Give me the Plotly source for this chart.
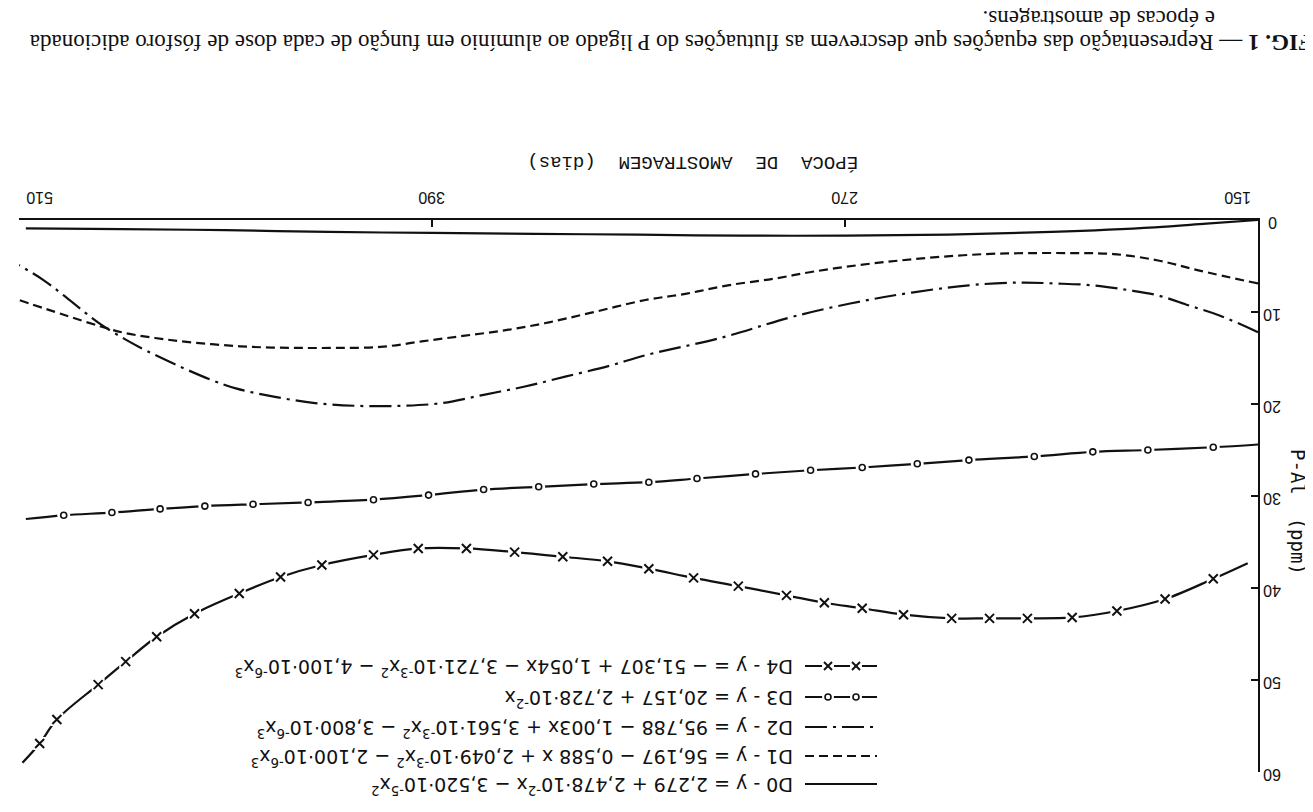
import plotly.graph_objects as go

# ---------------- data ----------------
X_TICKS = [150, 270, 390, 510]
Y_TICKS = [0, 10, 20, 30, 40, 50, 60]

d0_days = [150, 165, 180, 210, 240, 270, 300, 330, 360, 390, 420, 450, 480, 508]
d0_vals = [0.0, 0.4, 0.8, 1.3, 1.6, 1.7, 1.7, 1.6, 1.5, 1.4, 1.3, 1.1, 1.0, 0.9]

d1_days = [150, 167, 179, 192, 204, 217, 229, 242, 254, 266, 279, 291, 304, 316, 328,
           344, 357, 369, 381, 393, 405, 418, 430, 442, 454, 467, 479, 486, 497, 510]
d1_vals = [6.9, 5.5, 4.4, 3.7, 3.6, 3.6, 3.7, 4.0, 4.4, 4.9, 5.6, 6.4, 7.1, 8.0, 8.7,
           10.1, 11.2, 12.0, 12.6, 13.2, 13.8, 13.9, 13.9, 13.8, 13.5, 13.0, 12.3, 11.6, 10.3, 8.7]

d2_days = [150, 161, 170, 179, 188, 198, 209, 219, 234, 259, 284, 306, 328, 338, 351,
           363, 375, 387, 399, 412, 424, 436, 447, 454, 464, 473, 479, 486, 491, 497, 503, 510]
d2_vals = [12.2, 10.4, 9.3, 8.2, 7.6, 7.1, 6.9, 6.8, 7.1, 8.4, 10.4, 12.8, 14.7, 15.8, 17.0,
           18.1, 19.0, 19.9, 20.2, 20.2, 19.9, 19.2, 18.3, 17.4, 15.8, 14.2, 13.0, 11.4, 10.0, 8.2, 6.5, 4.9]

d3_days = [150, 163, 182, 198, 215, 234, 249, 265, 280, 296, 313, 327, 343, 359, 375,
           391, 407, 426, 442, 456, 469, 483, 497, 508]
d3_vals = [24.4, 24.7, 25.0, 25.2, 25.7, 26.1, 26.5, 26.9, 27.2, 27.6, 28.1, 28.5, 28.7, 29.0, 29.3,
           29.9, 30.4, 30.7, 30.9, 31.1, 31.4, 31.8, 32.1, 32.5]

d4_days = [153, 163, 177, 191, 204, 217, 228, 239, 253, 265, 276, 287, 301, 314, 327, 339,
           352, 366, 380, 394, 407, 422, 434, 446, 459, 470, 479, 487, 499, 504, 509]
d4_vals = [37.3, 39.0, 41.2, 42.5, 43.2, 43.3, 43.3, 43.3, 42.9, 42.2, 41.6, 40.8, 39.8, 38.9, 37.9, 37.1,
           36.6, 36.1, 35.7, 35.7, 36.4, 37.5, 38.8, 40.6, 42.8, 45.3, 48.0, 50.5, 54.3, 56.9, 59.0]

LEGEND_TEXTS = [
    "D4 - y = − 51,307 + 1,054x − 3,721·10<sup>-3</sup>x<sup>2</sup> − 4,100·10<sup>-6</sup>x<sup>3</sup>",
    "D3 - y = 20,157 + 2,728·10<sup>-2</sup>x",
    "D2 - y = 95,788 − 1,003x + 3,561·10<sup>-3</sup>x<sup>2</sup> − 3,800·10<sup>-6</sup>x<sup>3</sup>",
    "D1 - y = 56,197 − 0,588 x + 2,049·10<sup>-3</sup>x<sup>2</sup> − 2,100·10<sup>-6</sup>x<sup>3</sup>",
    "D0 - y = 2,279 + 2,478·10<sup>-2</sup>x − 3,520·10<sup>-5</sup>x<sup>2</sup>",
]
CAPTION_1 = ("<b>FIG. 1</b> — Representação das equações que descrevem as flutuações do P ligado "
             "ao alumínio em função de cada dose de fósforo adicionada")
CAPTION_2 = "e épocas de amostragens."
X_TITLE = "ÉPOCA\u00a0\u00a0DE\u00a0\u00a0AMOSTRAGEM\u00a0\u00a0(dias)"
Y_TITLE = "P-Al\u00a0\u00a0(ppm)"

# ---------------- figure ----------------
# the page body has an 8px margin, so the figure is drawn 8px smaller and
# every window-pixel position below is converted with that offset
OFF = 8
W, H = 1313 - OFF, 812 - OFF
PLOT_L, PLOT_R, PLOT_T, PLOT_B = 19, 1258, 220, 772     # window pixels
ML, MR = PLOT_L - OFF, W - (PLOT_R - OFF)
MT, MB = PLOT_T - OFF, H - (PLOT_B - OFF)
PW, PH = PLOT_R - PLOT_L, PLOT_B - PLOT_T


def px2paper(px, py):
    return (px - PLOT_L) / PW, 1 - (py - PLOT_T) / PH


BLACK = "#111111"
fig = go.Figure()

fig.add_trace(go.Scatter(x=d0_days, y=d0_vals, mode="lines", line_shape="spline",
                         line=dict(color=BLACK, width=2.2)))
fig.add_trace(go.Scatter(x=d1_days, y=d1_vals, mode="lines", line_shape="spline",
                         line=dict(color=BLACK, width=2.2, dash="9px,5px")))
fig.add_trace(go.Scatter(x=d2_days, y=d2_vals, mode="lines", line_shape="spline",
                         line=dict(color=BLACK, width=2.2, dash="22px,6px,3px,6px")))
# D3 : line with open circles
fig.add_trace(go.Scatter(x=d3_days, y=d3_vals, mode="lines", line_shape="spline",
                         line=dict(color=BLACK, width=2.2)))
fig.add_trace(go.Scatter(x=d3_days[1:-1], y=d3_vals[1:-1], mode="markers",
                         marker=dict(symbol="circle", size=13, color="white")))
fig.add_trace(go.Scatter(x=d3_days[1:-1], y=d3_vals[1:-1], mode="markers",
                         marker=dict(symbol="circle-open", size=6, color=BLACK,
                                     line=dict(width=1.6, color=BLACK))))
# D4 : line with x marks
fig.add_trace(go.Scatter(x=d4_days, y=d4_vals, mode="lines", line_shape="spline",
                         line=dict(color=BLACK, width=2.2)))
fig.add_trace(go.Scatter(x=d4_days[1:-1], y=d4_vals[1:-1], mode="markers",
                         marker=dict(symbol="square", size=13, color="white")))
fig.add_trace(go.Scatter(x=d4_days[1:-1], y=d4_vals[1:-1], mode="markers",
                         marker=dict(symbol="x-thin", size=9, color=BLACK,
                                     line=dict(width=2, color=BLACK))))

annotations = []
num_font = dict(family="Liberation Sans", size=16, color=BLACK)


def ann(x, y, text, font, angle=180, xanchor="center", yanchor="middle",
        xref="paper", yref="paper", **kw):
    annotations.append(dict(x=x, y=y, xref=xref, yref=yref, text=text, showarrow=False,
                            textangle=angle, xanchor=xanchor, yanchor=yanchor,
                            font=font, **kw))


# x tick labels (upside down, ends pulled inwards)
x_shift = {150: -20, 510: 21}
for t in X_TICKS:
    ann(t, px2paper(0, 198)[1], str(t), num_font, xref="x", xshift=x_shift.get(t, 0))

# y tick labels (upside down, right of the axis)
for t in Y_TICKS:
    ann(px2paper(1272, 0)[0], t, str(t), num_font, yref="y", yshift=-3)

# axis titles
tx, ty = px2paper(693, 162)
ann(tx, ty, X_TITLE, dict(family="Liberation Mono", size=19, color=BLACK))
tx, ty = px2paper(1298, 512)
ann(tx, ty, Y_TITLE, dict(family="DejaVu Sans Mono", size=19, color=BLACK), angle=90)

# caption
tx, ty = px2paper(1314, 43)
ann(tx, ty, CAPTION_1, dict(family="Liberation Serif", size=23, color=BLACK), xanchor="right")
tx, ty = px2paper(1217, 19)
ann(tx, ty, CAPTION_2, dict(family="Liberation Serif", size=23, color=BLACK), xanchor="right")

# legend (upside down, sample on the right)
ROW_Y = [666, 697, 727, 756, 784]
STYLES = ["x", "o", "dashdot", "dash", "solid"]
shapes = []
leg_font = dict(family="DejaVu Sans", size=19, color=BLACK)
for txt, ry, st in zip(LEGEND_TEXTS, ROW_Y, STYLES):
    tx, ty = px2paper(795, ry + 2)
    ann(tx, ty, txt, leg_font, xanchor="right")
    x0, yy = px2paper(805, ry)
    x1, _ = px2paper(877, ry)
    dash = {"dash": "9px,5px", "dashdot": "22px,6px,3px,6px"}.get(st, "solid")
    shapes.append(dict(type="line", xref="paper", yref="paper", x0=x0, x1=x1, y0=yy, y1=yy,
                       line=dict(color=BLACK, width=2.2, dash=dash)))
    if st in ("x", "o"):
        for mx in (828, 856):
            cx, cy = px2paper(mx, ry)
            pix = dict(xref="paper", yref="paper", xsizemode="pixel", ysizemode="pixel",
                       xanchor=cx, yanchor=cy)
            if st == "o":
                shapes.append(dict(type="circle", x0=-6, x1=6, y0=-6, y1=6,
                                   fillcolor="white", line=dict(width=0, color="white"), **pix))
                shapes.append(dict(type="circle", x0=-3, x1=3, y0=-3, y1=3,
                                   fillcolor="white", line=dict(width=1.6, color=BLACK), **pix))
            else:
                shapes.append(dict(type="rect", x0=-6, x1=6, y0=-6, y1=6,
                                   fillcolor="white", line=dict(width=0, color="white"), **pix))
                shapes.append(dict(type="line", x0=-4, x1=4, y0=-4, y1=4,
                                   line=dict(width=2, color=BLACK), **pix))
                shapes.append(dict(type="line", x0=-4, x1=4, y0=4, y1=-4,
                                   line=dict(width=2, color=BLACK), **pix))

fig.update_layout(
    width=W, height=H,
    margin=dict(l=ML, r=MR, t=MT, b=MB),
    paper_bgcolor="white", plot_bgcolor="white",
    showlegend=False,
    annotations=annotations,
    shapes=shapes,
    xaxis=dict(range=[510, 150], side="top", showline=True, linecolor=BLACK, linewidth=2,
               ticks="inside", ticklen=7, tickwidth=2, tickcolor=BLACK,
               tickvals=X_TICKS, showticklabels=False, showgrid=False, zeroline=False),
    yaxis=dict(range=[60, 0], side="right", showline=True, linecolor=BLACK, linewidth=2,
               ticks="inside", ticklen=7, tickwidth=2, tickcolor=BLACK,
               tickvals=Y_TICKS, showticklabels=False,
               showgrid=False, zeroline=False),
)

fig.write_html("out.html")
